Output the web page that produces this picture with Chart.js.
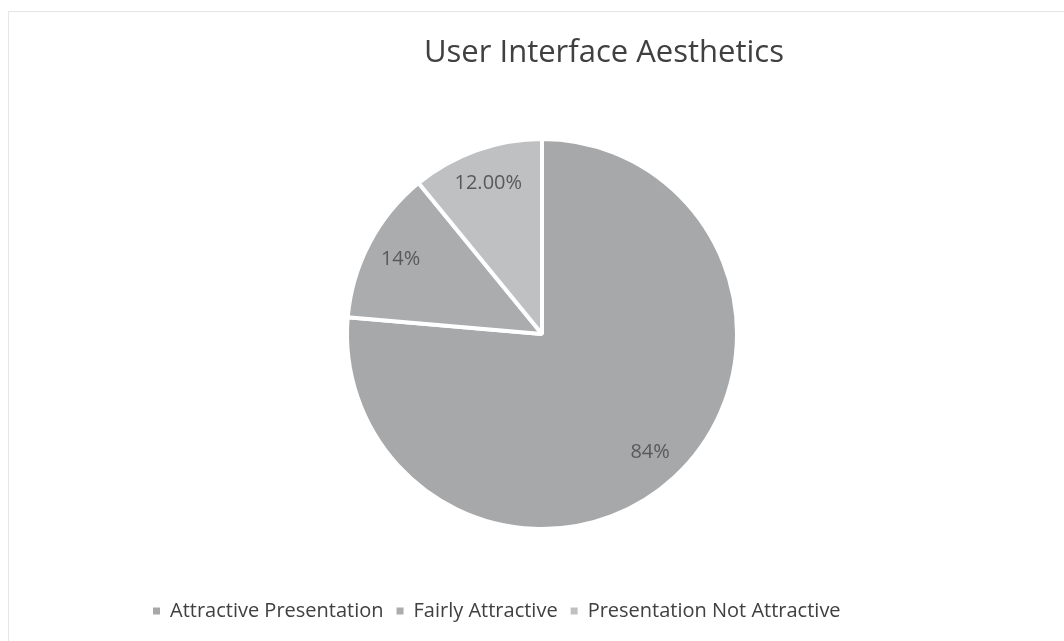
<!DOCTYPE html>
<html>
<head>
<meta charset="utf-8">
<script src="https://cdn.jsdelivr.net/npm/chart.js@4/dist/chart.umd.min.js"></script>
<style>
  html, body { margin: 0; padding: 0; background: #fff; }
  #wrap { position: relative; width: 1064px; height: 641px; overflow: hidden; }
  #frame { position: absolute; left: 8px; top: 11px; width: 1100px; height: 700px;
           border: 1px solid #e6e6e6; box-sizing: border-box; }
  #title { position: absolute; left: 0; width: 1208px; top: 35px; text-align: center;
           font-family: "Open Sans", sans-serif; font-size: 31px; line-height: 1;
           color: #404040; white-space: nowrap; }
  #myChart { position: absolute; left: 0; top: 0; }
</style>
</head>
<body>
<div id="wrap">
  <div id="frame"></div>
  <canvas id="myChart" width="1064" height="641"></canvas>
  <div id="title">User Interface Aesthetics</div>
</div>
<script>
var labels = ['Attractive Presentation', 'Fairly Attractive', 'Presentation Not Attractive'];
var values = [84, 14, 12];
var decimals = [0, 0, 2];
var colors = ['#a6a8aa', '#aaacae', '#bec0c2'];

// percent text inside each slice
var sliceLabels = {
  id: 'sliceLabels',
  afterDatasetsDraw: function (chart) {
    var ctx = chart.ctx;
    var meta = chart.getDatasetMeta(0);
    ctx.save();
    ctx.font = '20px "Open Sans", sans-serif';
    ctx.fillStyle = '#595959';
    ctx.textAlign = 'center';
    ctx.textBaseline = 'middle';
    meta.data.forEach(function (arc, i) {
      var p = arc.getProps(['x', 'y', 'startAngle', 'endAngle', 'outerRadius'], true);
      var mid = (p.startAngle + p.endAngle) / 2;
      var r = p.outerRadius * 0.82;
      ctx.fillText(values[i].toFixed(decimals[i]) + '%', p.x + Math.cos(mid) * r, p.y + Math.sin(mid) * r);
    });
    ctx.restore();
  }
};

var ctx = document.getElementById('myChart');
var chart = new Chart(ctx, {
  type: 'pie',
  data: {
    labels: labels,
    datasets: [{
      data: values,
      backgroundColor: colors,
      borderColor: '#ffffff',
      borderWidth: 4,
      radius: 195
    }]
  },
  options: {
    responsive: false,
    animation: false,
    layout: { padding: { left: 140, right: 120, top: 80, bottom: 10 } },
    plugins: {
      title: { display: false },
      tooltip: { enabled: false },
      legend: {
        position: 'bottom',
        align: 'start',
        labels: {
          boxWidth: 7,
          boxHeight: 7,
          padding: 13,
          color: '#404040',
          font: { family: '"Open Sans", sans-serif', size: 20 },
          generateLabels: function (chart) {
            var items = Chart.overrides.pie.plugins.legend.labels.generateLabels(chart);
            items.forEach(function (item) { item.lineWidth = 0; });
            return items;
          }
        }
      }
    }
  },
  plugins: [sliceLabels]
});
</script>
</body>
</html>
